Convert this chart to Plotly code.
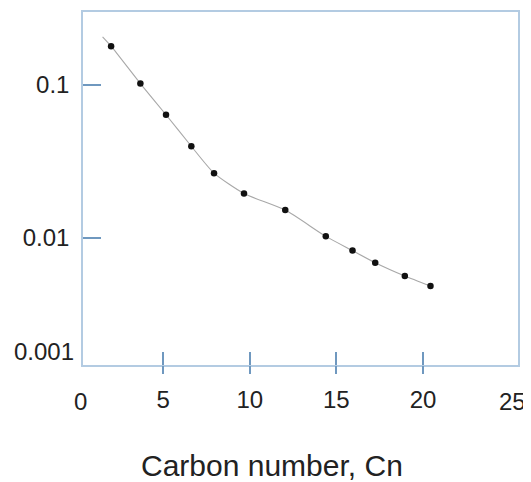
import plotly.graph_objects as go

# Data
carbon_number = [2.00, 3.69, 5.17, 6.63, 7.94, 9.67, 12.05, 14.39, 15.93, 17.24, 18.95, 20.43]
fraction = [0.179, 0.102, 0.0638, 0.0397, 0.0265, 0.0195, 0.0152, 0.01024, 0.00827, 0.00689, 0.00564, 0.00485]
# curve extends slightly beyond the first point
curve_x = [1.51] + carbon_number
curve_y = [0.206] + fraction

x_ticks = [5, 10, 15, 20]
y_ticks = [0.01, 0.1]
y_tick_text = ["0.01", "0.1"]

x_range = [0.38, 25.48]

frame_color = "#b3cbe2"
tick_color = "#6f98bf"
text_color = "#222222"
font_family = "Liberation Sans, Arial, sans-serif"
tick_size = 24

fig = go.Figure()
fig.add_trace(go.Scatter(
    x=curve_x, y=curve_y, mode="lines",
    line=dict(color="#a8a8a8", width=1.1, shape="spline", smoothing=0.6),
    hoverinfo="skip", showlegend=False,
))
fig.add_trace(go.Scatter(
    x=carbon_number, y=fraction, mode="markers",
    marker=dict(color="#111111", size=6.5),
    showlegend=False,
))
# invisible trace for the overlay axis that draws the outside part of x ticks
fig.add_trace(go.Scatter(x=[1], y=[0.01], xaxis="x2", mode="markers",
                         marker=dict(opacity=0), hoverinfo="skip", showlegend=False))

def paper_x(v):
    return (v - x_range[0]) / (x_range[1] - x_range[0])

fig.update_layout(
    width=523, height=474,
    margin=dict(l=75, r=13, t=2, b=117),
    paper_bgcolor="white", plot_bgcolor="white",
    font=dict(family=font_family, size=tick_size, color=text_color),
    xaxis=dict(
        range=x_range, tickvals=x_ticks,
        ticks="inside", ticklen=13, tickwidth=1.5, tickcolor=tick_color,
        showline=True, linecolor=frame_color, linewidth=1.5, mirror=True,
        showgrid=False, zeroline=False,
        tickfont=dict(size=tick_size, color=text_color),
        ticklabelstandoff=12,
    ),
    xaxis2=dict(
        range=x_range, tickvals=x_ticks, overlaying="x", anchor="y",
        side="bottom", ticks="outside", ticklen=8, tickwidth=1.5, tickcolor=tick_color,
        showticklabels=False, showline=False, showgrid=False, zeroline=False,
    ),
    yaxis=dict(
        type="log", range=[-2.83, -0.524],
        tickvals=y_ticks, ticktext=y_tick_text,
        ticks="inside", ticklen=18, tickwidth=1.5, tickcolor=tick_color,
        showline=True, linecolor=frame_color, linewidth=1.5, mirror=True,
        showgrid=False, zeroline=False,
        tickfont=dict(size=tick_size, color=text_color),
        ticklabelstandoff=7,
    ),
    annotations=[
        dict(text="0", xref="paper", yref="paper", x=paper_x(0), y=0,
             xanchor="center", yanchor="middle", yshift=-36, xshift=4, showarrow=False,
             font=dict(size=tick_size, color=text_color)),
        dict(text="25", xref="paper", yref="paper", x=paper_x(25), y=0,
             xanchor="center", yanchor="middle", yshift=-36, xshift=3, showarrow=False,
             font=dict(size=tick_size, color=text_color)),
        dict(text="0.001", xref="paper", yref="y", x=0, y=-2.74,
             xanchor="right", yanchor="middle", xshift=-7, showarrow=False,
             font=dict(size=tick_size, color=text_color)),
        dict(text="Carbon number, Cn", xref="paper", yref="paper",
             x=0.4356, y=0, yshift=-100, xanchor="center", yanchor="middle",
             showarrow=False, font=dict(size=30, color=text_color)),
    ],
)

fig.write_html("out.html")
